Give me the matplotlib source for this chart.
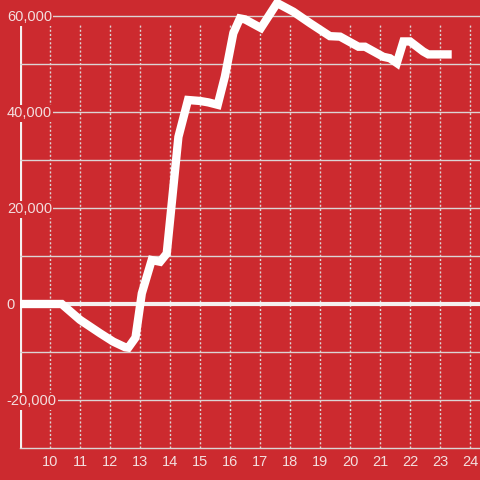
import matplotlib
matplotlib.use("Agg")
import matplotlib.pyplot as plt

# hour of day vs cumulative value
hours = [9.0, 10.39, 11.0, 11.67, 12.11, 12.5, 12.61, 12.85, 13.06, 13.39, 13.67, 13.89,
         14.28, 14.6, 15.0, 15.28, 15.59, 15.83, 16.11, 16.33, 16.5, 17.03, 17.57,
         18.11, 18.67, 19.33, 19.67, 20.28, 20.5, 21.11, 21.33, 21.56, 21.78, 22.0,
         22.44, 22.61, 23.39]
values = [0, 0, -3300, -6100, -7850, -9000, -9100, -7000, 2200, 9150, 8800, 10500,
          34800, 42500, 42300, 42000, 41500, 47400, 56400, 59500, 59300, 57500, 62700,
          60900, 58500, 55800, 55700, 53600, 53600, 51500, 51200, 50200, 54700, 54700,
          52600, 52000, 52000]

x_ticks = list(range(10, 25))
y_ticks = [-20000, 0, 20000, 40000, 60000]
y_labels = ["-20,000", "0", "20,000", "40,000", "60,000"]
y_grid = [-20000, -10000, 10000, 20000, 30000, 40000, 50000, 60000]

bg = "#cc2a2f"
txt = "#f3dede"
grid = "#dcd4d4"

plt.rcParams["font.family"] = ["Liberation Sans", "DejaVu Sans"]

fig = plt.figure(figsize=(4.8, 4.8), dpi=100, facecolor=bg)
ax = fig.add_axes([20 / 480, 32 / 480, 460 / 480, 448 / 480])
ax.set_facecolor(bg)
ax.set_xlim(9, 24.333)
ax.set_ylim(-30000, 63333)
ax.set_axisbelow(True)

for s in ["top", "right", "left"]:
    ax.spines[s].set_visible(False)
ax.spines["bottom"].set_color(grid)
ax.spines["bottom"].set_linewidth(1)

# left axis line and vertical dotted grid
ax.plot([9, 9], [-30000, 58300], color="#f5f0f0", lw=3, zorder=0.3, solid_capstyle="butt")
ax.vlines(x_ticks, -30000, 58300, colors=grid, lw=1, linestyles=(0, (1.5, 1.5)), zorder=0.2)

ax.set_yticks(y_grid, minor=True)
ax.yaxis.grid(True, which="both", color=grid, lw=1)
ax.set_yticks(y_ticks, labels=y_labels, ha="left",
              bbox=dict(facecolor=bg, edgecolor="none", pad=1))
ax.tick_params(axis="y", which="both", length=0, pad=9.5, labelsize=10.5, labelcolor=txt)

ax.set_xticks(x_ticks)
ax.tick_params(axis="x", length=0, pad=5, labelsize=10.5, labelcolor=txt)

ax.axhline(0, color="#f5f0f0", lw=3, zorder=1)
ax.plot(hours, values, color="white", lw=6, zorder=2, clip_on=False,
        solid_capstyle="butt", solid_joinstyle="miter")

fig.savefig("out.png", dpi=100, facecolor=bg)
